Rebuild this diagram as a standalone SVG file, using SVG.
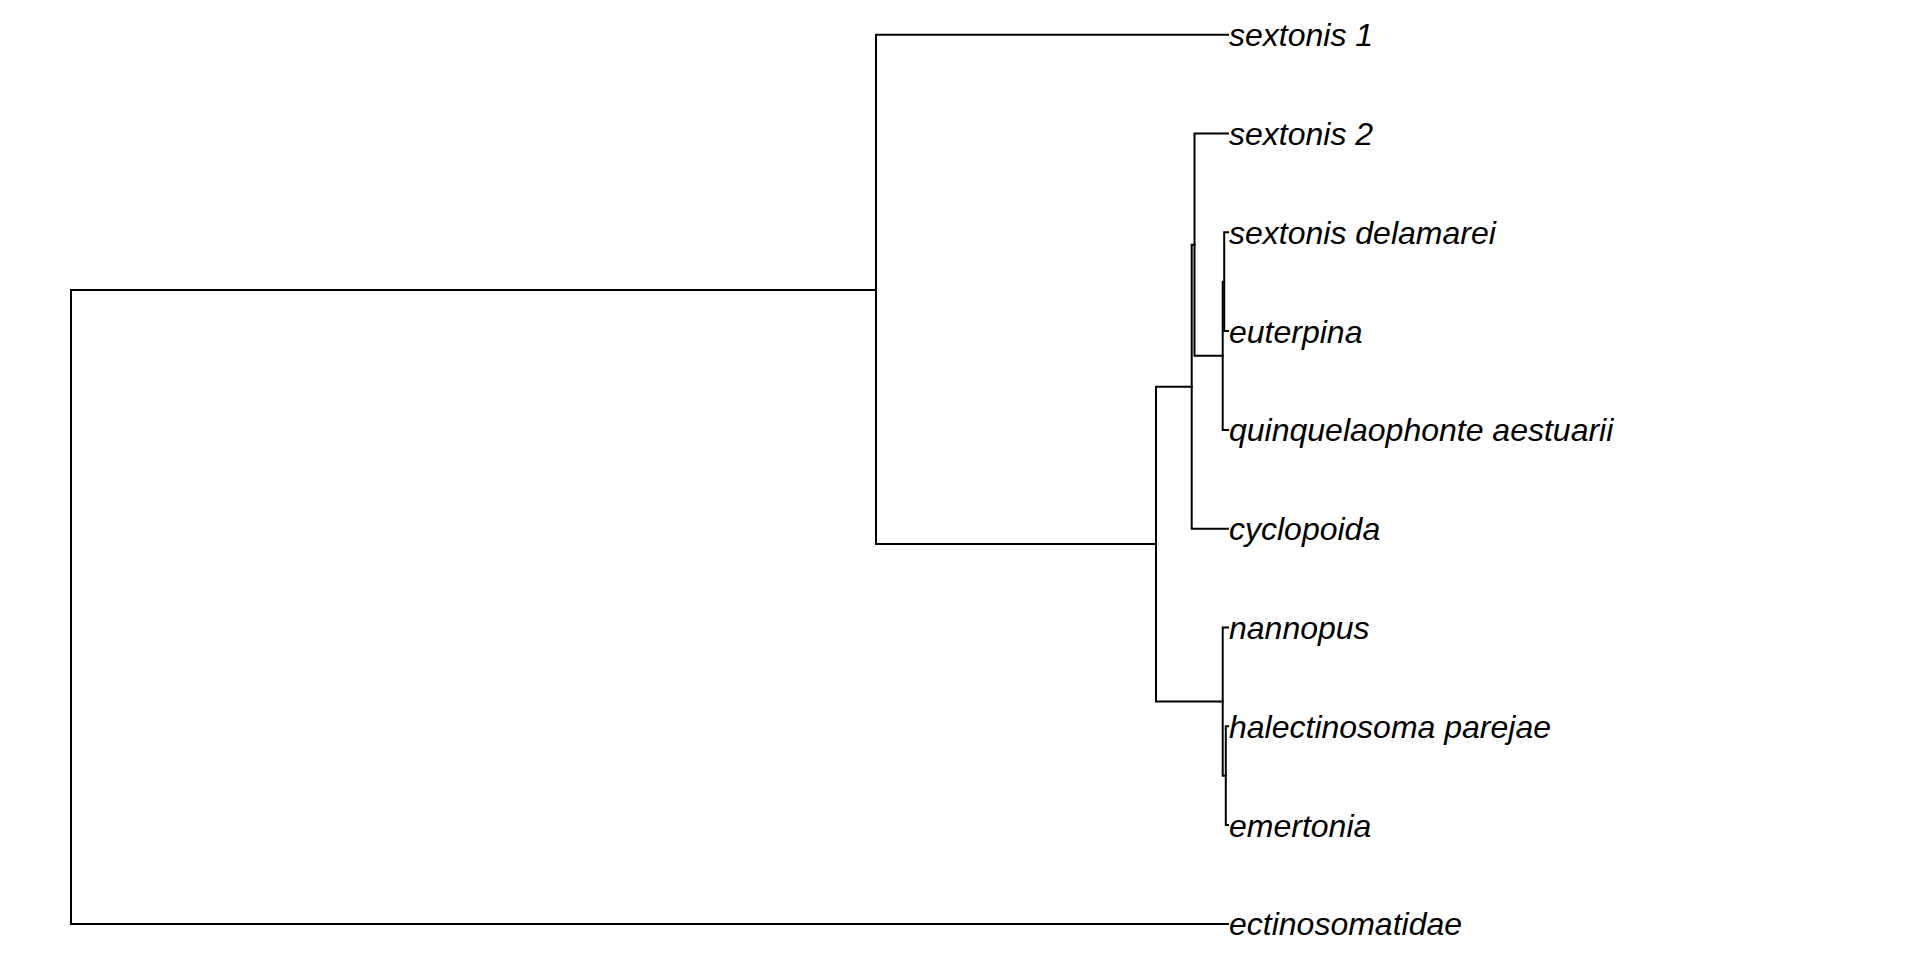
<svg xmlns="http://www.w3.org/2000/svg" width="1920" height="960" viewBox="0 0 1920 960">
<style>
.e{stroke:#000;stroke-width:2;fill:none;stroke-linecap:square}
.t{font-family:"Liberation Sans",Arial,sans-serif;font-style:italic;font-size:32px;fill:#000}
</style>
<rect width="1920" height="960" fill="#fff"/>
<g id="connectors">
<path class="e" d="M71,290 V923.9 H1228"/>
<path class="e" d="M71,290 H876"/>
<path class="e" d="M876,34.7 V544 M876,34.7 H1228 M876,544 H1156"/>
<path class="e" d="M1156,386.7 V701.6 M1156,386.7 H1191.7 M1156,701.6 H1222.7"/>
<path class="e" d="M1191.7,244.7 V528.7 H1228 M1191.7,244.7 H1194.5"/>
<path class="e" d="M1194.5,133.5 V355.8 M1194.5,133.5 H1228 M1194.5,355.8 H1222.7"/>
<path class="e" d="M1222.7,281.7 V429.9 H1228 M1222.7,281.7 H1224.2"/>
<path class="e" d="M1224.2,232.3 V331.1 M1224.2,232.3 H1228 M1224.2,331.1 H1228"/>
<path class="e" d="M1222.7,627.5 V775.7 M1222.7,627.5 H1228 M1222.7,775.7 H1225.8"/>
<path class="e" d="M1225.8,726.3 V825.1 M1225.8,726.3 H1228 M1225.8,825.1 H1228"/>
</g>
<g id="sextonis1"><text class="t" x="1229" y="46.2">sextonis 1</text></g>
<g id="sextonis2"><text class="t" x="1229" y="145">sextonis 2</text></g>
<g id="sextonisdelamarei"><text class="t" x="1229" y="243.8">sextonis delamarei</text></g>
<g id="euterpina"><text class="t" x="1229" y="342.6">euterpina</text></g>
<g id="quinquelaophonte"><text class="t" x="1229" y="441.4">quinquelaophonte aestuarii</text></g>
<g id="cyclopoida"><text class="t" x="1229" y="540.2">cyclopoida</text></g>
<g id="nannopus"><text class="t" x="1229" y="639">nannopus</text></g>
<g id="halectinosoma"><text class="t" x="1229" y="737.8">halectinosoma parejae</text></g>
<g id="emertonia"><text class="t" x="1229" y="836.6">emertonia</text></g>
<g id="ectinosomatidae"><text class="t" x="1229" y="935.4">ectinosomatidae</text></g>
</svg>
